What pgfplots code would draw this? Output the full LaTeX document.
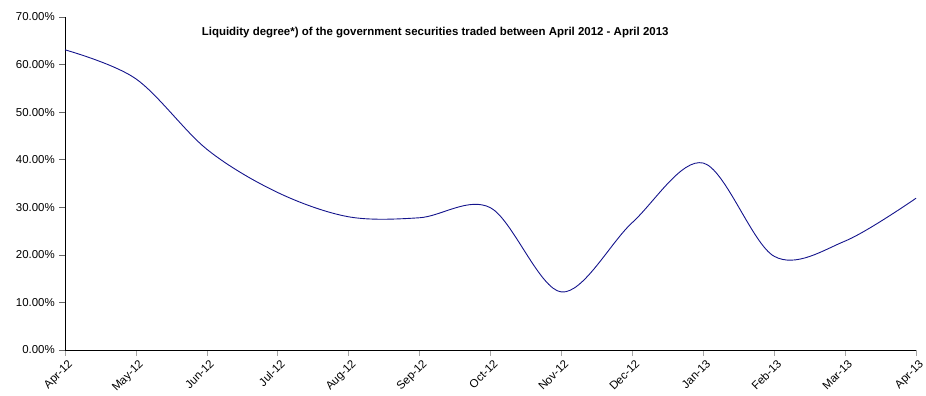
\documentclass[border=0pt]{standalone}
\usepackage{pgfplots}
\pgfplotsset{compat=1.18}
\usepackage{fontspec}
\setmainfont{Liberation Sans}
\definecolor{navyline}{RGB}{20,20,140}
\begin{document}
\begin{tikzpicture}
\begin{axis}[
  name=ax,
  scale only axis,
  width=851bp, height=333bp,
  xmin=0, xmax=12, ymin=0, ymax=0.7,
  axis lines=left,
  axis line style={-, black, line width=0.8pt},
  xtick={0,...,12},
  xticklabels={Apr-12,May-12,Jun-12,Jul-12,Aug-12,Sep-12,Oct-12,Nov-12,Dec-12,Jan-13,Feb-13,Mar-13,Apr-13},
  ytick={0,0.1,...,0.7},
  yticklabels={0.00\%,10.00\%,20.00\%,30.00\%,40.00\%,50.00\%,60.00\%,70.00\%},
  tick align=outside,
  major tick length=6bp,
  x tick style={gray!70, line width=0.6pt},
  y tick style={gray!80!black, line width=0.6pt},
  x tick label style={rotate=45, anchor=north east, font=\fontsize{11.5}{13}\selectfont, inner sep=0.5pt, xshift=0bp, yshift=-3bp},
  y tick label style={font=\fontsize{11.5}{13}\selectfont, inner sep=2pt, xshift=-2bp},
  clip=false,
]
\addplot[navyline, line width=0.9pt, smooth, tension=0.55] coordinates {
(0,0.631) (1,0.570) (2,0.422) (3,0.331) (4,0.280) (5,0.278) (6,0.299)
(7,0.122) (8,0.268) (9,0.393) (10,0.197) (11,0.229) (12,0.319)
};
\node[font=\bfseries\fontsize{11.5}{13}\selectfont] at (rel axis cs:0.435,0.952) {Liquidity degree*) of the government securities traded between April 2012 - April 2013};
\end{axis}
\pgfresetboundingbox
\path[use as bounding box] (ax.south west) ++(-65bp,-46bp) rectangle ++(926bp,396bp);
\end{tikzpicture}
\end{document}
